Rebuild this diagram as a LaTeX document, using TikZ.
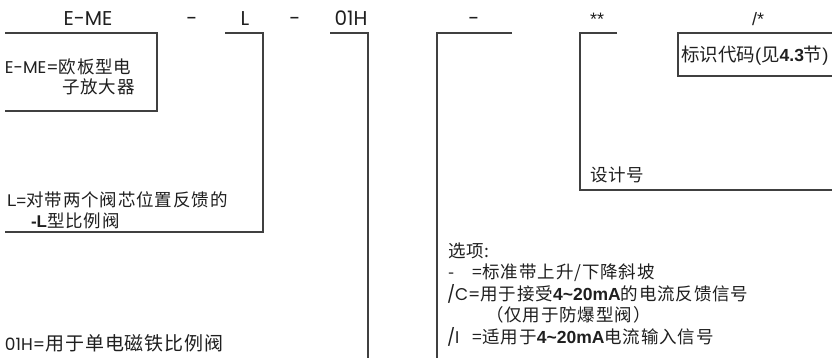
\documentclass[tikz,border=0pt]{standalone}
\usepackage{fontspec}
\setmainfont[LetterSpace=5]{Noto Sans CJK SC}
\newfontfamily\cjkt{Noto Sans CJK SC}
\newfontfamily\geo{Poppins}
\newfontfamily\ari{Liberation Sans}
\newcommand\cnt{\fontsize{17.5}{20}\selectfont}
\newcommand\geot{\geo\fontsize{17}{20}\selectfont}
\newcommand\bnum[1]{{\ari\bfseries\fontsize{17.5}{20}\selectfont #1}}
\newcommand\tld{\char"007E\relax}
\tikzset{
  lbl/.style={anchor=base west, inner sep=0pt, outer sep=0pt, text=black!88, font=\cnt},
  hdr/.style={anchor=base, inner sep=0pt, text=black!88, font=\geo\fontsize{20}{22}\selectfont},
  hdra/.style={anchor=base, inner sep=0pt, text=black!88, font=\ari\fontsize{18}{20}\selectfont},
  brk/.style={draw=black!75, line width=1.1pt},
}
\begin{document}
\begin{tikzpicture}[x=1pt,y=-1pt]
\clip (0,0) rectangle (832,358);
\fill[white] (0,0) rectangle (832,358);
% header
\node[hdr] (h1) at (88,26) {E-ME};
\node[hdr] (h2) at (192,26) {-};
\node[hdr] (h3) at (245,26) {L};
\node[hdr] (h4) at (295,26) {-};
\node[hdr] (h5) at (351,26) {01H};
\node[hdr] (h6) at (474,26) {-};
\node[hdra] (h7) at (597,26) {**};
\node[hdra] (h8) at (758,26) {/*};
% brackets
\coordinate (emeT) at (5,33); \coordinate (emeB) at (157,111);
\draw[brk] (emeT) -| (emeB) -- (emeT |- emeB);
\coordinate (lT) at (225,33); \coordinate (lB) at (263,232); \coordinate (lE) at (5,232);
\draw[brk] (lT) -| (lB) -- (lE);
\coordinate (oT) at (330,33); \coordinate (oB) at (368,360);
\draw[brk] (oT) -| (oB);
\coordinate (pT) at (512,33); \coordinate (pB) at (437,360);
\draw[brk] (pT) -| (pB);
\coordinate (dT) at (617,33); \coordinate (dB) at (580,190); \coordinate (dE) at (834,190);
\draw[brk] (dT) -| (dB) -- (dE);
\coordinate (iA) at (678,33); \coordinate (iB) at (850,76);
\draw[brk] (iA) rectangle (iB);
% texts
\node[lbl] (t1) at (5,74) {{\geot E-ME=}欧板型电};
\node[lbl] (t2) at (62,94) {子放大器};
\node[lbl] (t3) at (7,207) {{\ari\fontsize{17}{20}\selectfont L=}对带两个阀芯位置反馈的};
\node[lbl] (t4) at (31,227) {{\ari\bfseries\fontsize{17}{20}\selectfont -L}型比例阀};
\node[lbl, font=\fontsize{19}{22}\selectfont] (t5) at (5,350) {{\geot 01H=}用于单电磁铁比例阀};
\node[lbl] (t6) at (590,182) {设计号};
\node[lbl, font=\cjkt\fontsize{18.5}{20}\selectfont] (t7) at (681,62) {标识代码{\ari\fontsize{18.5}{20}\selectfont(}见\bnum{4.3}节{\ari\fontsize{18.5}{20}\selectfont)}};
\node[lbl] (o1) at (448,257) {选项:};
\node[lbl] (o2) at (448,278) {-};
\node[lbl] (o2b) at (472,278) {=标准带上升/下降斜坡};
\node[lbl] (o3) at (447,300) {{\geot /C=}用于接受\bnum{4\tld20mA}的电流反馈信号};
\node[lbl] (o4) at (486,321) {（仅用于防爆型阀）};
\node[lbl] (o5) at (447,343) {{\geot /I}};
\node[lbl] (o5b) at (472,343) {=适用于\bnum{4\tld20mA}电流输入信号};
\end{tikzpicture}
\end{document}
